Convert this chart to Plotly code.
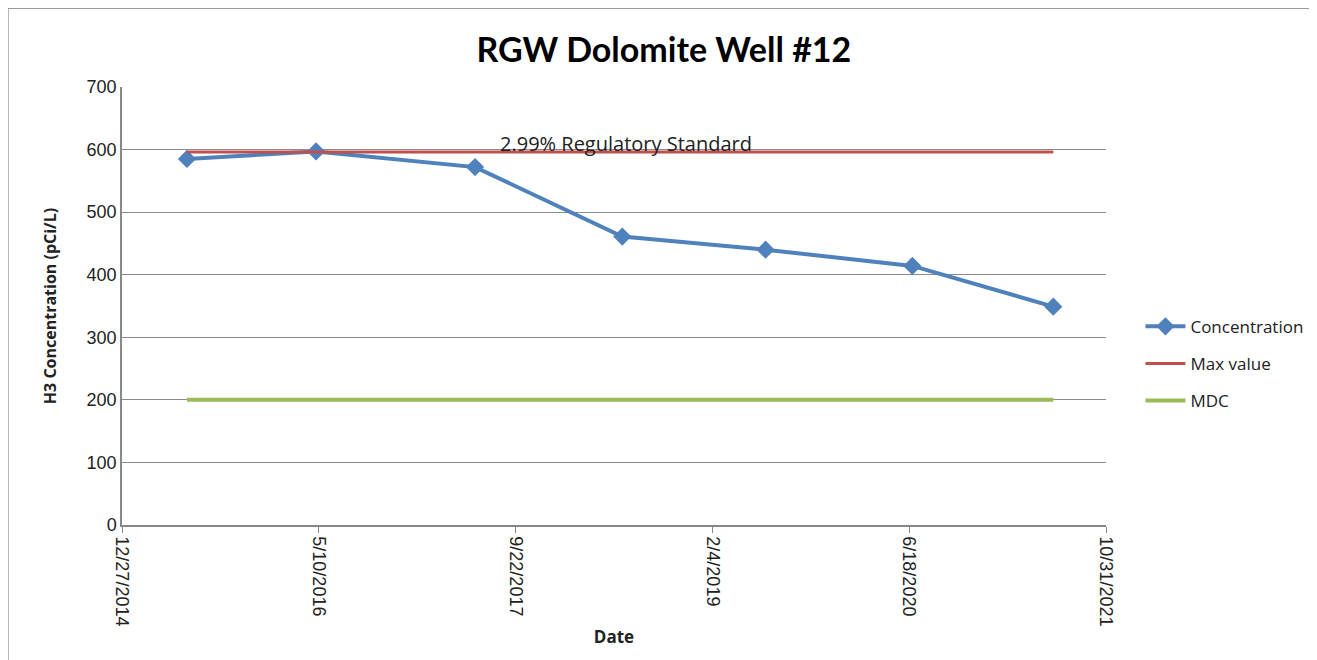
import plotly.graph_objects as go

dates = ["2015-06-10", "2016-05-03", "2017-06-11", "2018-06-20", "2019-06-19", "2020-06-26", "2021-06-19"]
concentration = [585, 597, 572, 461, 440, 414, 349]
max_value = [596] * len(dates)
mdc = [200] * len(dates)

tick_dates = ["2014-12-27", "2016-05-10", "2017-09-22", "2019-02-04", "2020-06-18", "2021-10-31"]
tick_labels = ["12/27/2014", "5/10/2016", "9/22/2017", "2/4/2019", "6/18/2020", "10/31/2021"]

fig = go.Figure()
fig.add_trace(go.Scatter(x=dates, y=concentration, name="Concentration", mode="lines+markers",
                         legendgroup="a",
                         line=dict(color="#4F81BD", width=4),
                         marker=dict(symbol="diamond", size=14, color="#4F81BD")))
fig.add_trace(go.Scatter(x=dates, y=max_value, name="Max value", mode="lines", legendgroup="b",
                         line=dict(color="#C0504D", width=3)))
fig.add_trace(go.Scatter(x=dates, y=mdc, name="MDC", mode="lines", legendgroup="c",
                         line=dict(color="#9BBB59", width=4)))

fig.add_annotation(x=0.512, y=596, xref="paper", yref="y", text="2.99% Regulatory Standard",
                   showarrow=False, yanchor="bottom", yshift=-7,
                   font=dict(family="Open Sans, sans-serif", size=20, color="#222"))

fig.add_shape(type="rect", xref="paper", yref="paper", x0=-0.1159, x1=1.26, y0=-0.35, y1=1.18,
              line=dict(color="#9a9a9a", width=1.5), fillcolor="rgba(0,0,0,0)", layer="below")

fig.update_layout(
    width=1317, height=660,
    margin=dict(l=114, r=219, t=79, b=143),
    paper_bgcolor="white", plot_bgcolor="white",
    title=dict(text="<b>RGW Dolomite Well #12</b>", x=0.498, xanchor="center", y=0.936, yanchor="middle",
               font=dict(family="Lato, sans-serif", size=34, color="black")),
    showlegend=True,
    legend=dict(x=1.035, y=0.368, xanchor="left", yanchor="middle", bgcolor="rgba(0,0,0,0)",
                font=dict(family="Open Sans, sans-serif", size=17, color="#222"),
                tracegroupgap=12, itemwidth=40),
    xaxis=dict(range=["2014-12-27", "2021-10-31"], tickvals=tick_dates, ticktext=tick_labels,
               tickangle=90, ticks="outside", ticklen=6, tickcolor="#888",
               showline=True, linecolor="#888", linewidth=1.5, showgrid=False, zeroline=False,
               tickfont=dict(family="Liberation Sans, Arial, sans-serif", size=18, color="#222"),
               title=dict(text="<b>Date</b>", standoff=6,
                          font=dict(family="Open Sans, sans-serif", size=17, color="#222"))),
    yaxis=dict(range=[0, 700], dtick=100, showgrid=True, gridcolor="#8c8c8c", gridwidth=1,
               showline=True, linecolor="#888", linewidth=1.5, zeroline=False,
               ticks="", tickfont=dict(family="Liberation Sans, Arial, sans-serif", size=18, color="#222"),
               title=dict(text="<b>H3 Concentration (pCi/L)</b>", standoff=26,
                          font=dict(family="Open Sans, sans-serif", size=16, color="#222"))),
)

fig.write_html("out.html")
